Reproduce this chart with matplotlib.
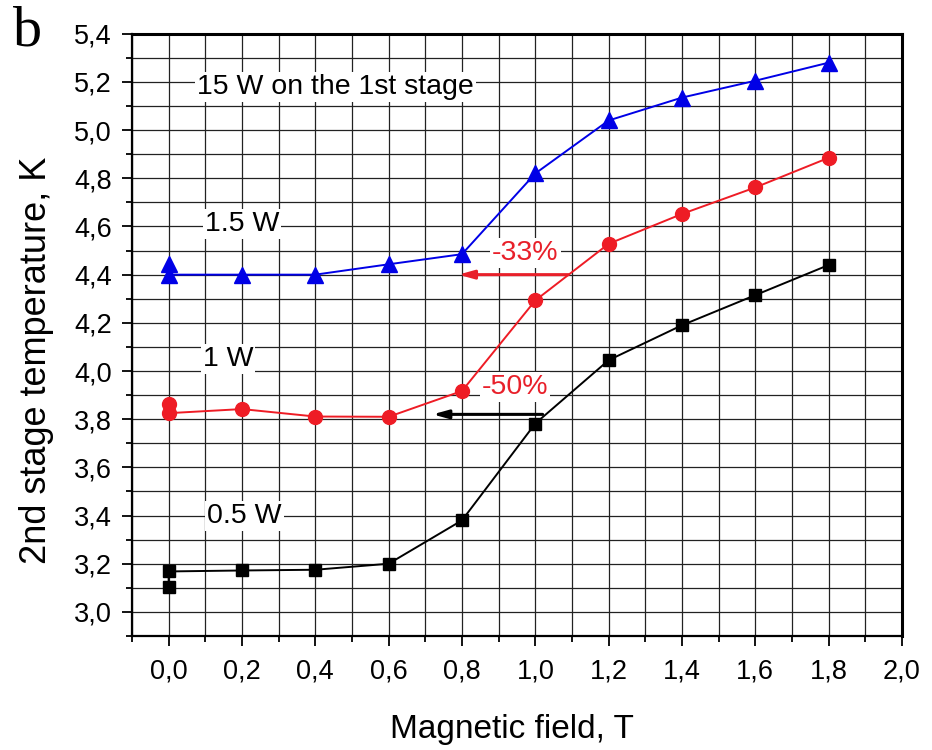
import matplotlib; matplotlib.use("Agg")
import matplotlib.pyplot as plt
from matplotlib.ticker import MultipleLocator, FuncFormatter

plt.rcParams['font.family'] = ['Liberation Sans', 'DejaVu Sans']

# data (two readings at 0 T for each curve)
field = [0.0, 0.0, 0.2, 0.4, 0.6, 0.8, 1.0, 1.2, 1.4, 1.6, 1.8]
t_15w = [4.445, 4.40, 4.40, 4.40, 4.443, 4.485, 4.82, 5.04, 5.135, 5.205, 5.28]
t_1w = [3.865, 3.825, 3.842, 3.811, 3.81, 3.917, 4.293, 4.528, 4.652, 4.762, 4.885]
t_05w = [3.105, 3.168, 3.172, 3.175, 3.20, 3.38, 3.782, 4.045, 4.19, 4.315, 4.44]

# text labels: (text, x, y, colour)
labels = [("15 W on the 1st stage", 0.455, 5.18, "black"),
          ("1.5 W", 0.20, 4.61, "black"),
          ("1 W", 0.162, 4.05, "black"),
          ("0.5 W", 0.207, 3.40, "black"),
          ("-33%", 0.973, 4.49, "#e8202a"),
          ("-50%", 0.945, 3.935, "#e8202a")]
# arrows: (tail x, tip x, y, colour)
arrows = [(1.09, 0.79, 4.40, "#e8202a"),
          (1.02, 0.72, 3.82, "black")]

fig = plt.figure(figsize=(9.32, 7.5), dpi=100)
ax = fig.add_axes([0.1416, 0.152, 0.8262, 0.803])

ax.plot(field, t_15w, color="#0000e6", lw=1.4, marker="^", ms=12, zorder=4)
ax.plot(field, t_1w, color="#ee1c25", lw=1.4, marker="o", ms=10, zorder=4)
ax.plot(field, t_05w, color="black", lw=1.4, marker="s", ms=8.5, zorder=4)

for txt, x, y, c in labels:
    ax.text(x, y, txt, color=c, fontsize=20.5, ha="center", va="center", zorder=3,
            bbox=dict(facecolor="white", edgecolor="none", pad=1.5))
for x0, x1, y, c in arrows:
    ax.annotate("", (x1, y), (x0, y), zorder=3,
                arrowprops=dict(arrowstyle="-|>,head_length=0.9,head_width=0.25", color=c, lw=2.2,
                                shrinkA=0, shrinkB=0))

ax.set_xlim(-0.1, 2.0)
ax.set_ylim(2.9, 5.4)
ax.xaxis.set_major_locator(MultipleLocator(0.2))
ax.xaxis.set_minor_locator(MultipleLocator(0.1))
ax.yaxis.set_major_locator(MultipleLocator(0.2))
ax.yaxis.set_minor_locator(MultipleLocator(0.1))
comma = FuncFormatter(lambda v, p: f"{v:.1f}".replace(".", ","))
ax.xaxis.set_major_formatter(comma)
ax.yaxis.set_major_formatter(comma)
ax.set_xticks([t / 10 for t in range(0, 21, 2)])
ax.set_yticks([3.0 + t / 10 for t in range(0, 25, 2)])

ax.grid(True, which="both", color="#222222", lw=0.9, zorder=0)
ax.set_axisbelow(True)
ax.tick_params(which="major", direction="out", length=7.5, width=1.3, labelsize=19.5)
ax.tick_params(which="minor", direction="out", length=4, width=1.3)
ax.tick_params(axis="x", pad=9)
ax.tick_params(axis="y", pad=7)
for s in ax.spines.values():
    s.set_linewidth(1.6)
ax.spines["top"].set_linewidth(2.2)
ax.spines["right"].set_linewidth(2.2)

ax.set_xlabel("Magnetic field, T", fontsize=24)
ax.set_ylabel("2nd stage temperature, K", fontsize=26)
ax.xaxis.set_label_coords(0.493, -0.13)
ax.yaxis.set_label_coords(-0.101, 0.458)

fig.text(0.014, 0.94, "b", fontsize=42, family=["Liberation Serif", "DejaVu Serif"], va="baseline")

fig.savefig("out.png", dpi=100)
